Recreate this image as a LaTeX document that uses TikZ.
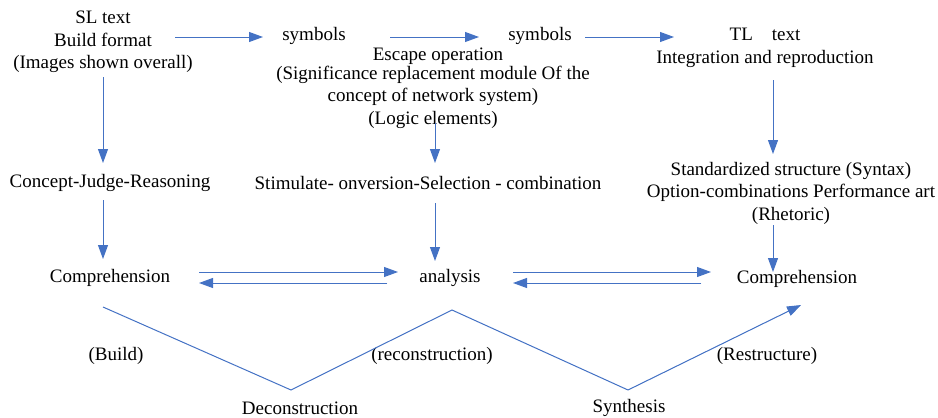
\documentclass[tikz,border=0pt]{standalone}
\usepackage{fontspec}
\setmainfont{Liberation Serif}
\usetikzlibrary{arrows.meta}
\definecolor{lineblue}{HTML}{4472C4}
\begin{document}
\begin{tikzpicture}[x=1pt,y=-1pt,
  lbl/.style={inner sep=0pt,align=center,font=\fontsize{19}{22.5}\selectfont},
  arr/.style={draw=lineblue,line width=1pt,-{Triangle[length=14pt,width=10pt]},fill=lineblue},
  ln/.style={draw=lineblue,line width=1pt}]
\useasboundingbox (0,0) rectangle (938,418);
% top row
\node[lbl] (sl) at (103,42) {SL text\\Build format\\(Images shown overall)};
\node[lbl] (sym1) at (314,36) {symbols};
\node[lbl] (sym2) at (540,36) {symbols};
\node[lbl] (tl) at (765,48) {TL\quad text\\Integration and reproduction};
\node[lbl] (esc) at (438,56) {Escape operation};
\node[lbl] (sig) at (433,97) {(Significance replacement module Of the\\concept of network system)\\(Logic elements)};
% middle row
\node[lbl] (cjr) at (110,183) {Concept-Judge-Reasoning};
\node[lbl] (stim) at (428,183) {Stimulate- onversion-Selection - combination};
\node[lbl] (std) at (791,193) {Standardized structure (Syntax)\\Option-combinations Performance art\\(Rhetoric)};
% bottom row
\node[lbl] (comp1) at (110,278) {Comprehension};
\node[lbl] (ana) at (450,278) {analysis};
\node[lbl] (comp2) at (797,279) {Comprehension};
% zigzag labels
\node[lbl] (build) at (116,356) {(Build)};
\node[lbl] (recon) at (432,356) {(reconstruction)};
\node[lbl] (restr) at (767,356) {(Restructure)};
\node[lbl] (decon) at (300,408) {Deconstruction};
\node[lbl] (synth) at (629,408) {Synthesis};
% horizontal arrows top
\coordinate (a1s) at (175,37); \coordinate (a1e) at (263,37);
\draw[arr] (a1s) -- (a1e);
\coordinate (a2s) at (390,37); \coordinate (a2e) at (479,37);
\draw[arr] (a2s) -- (a2e);
\coordinate (a3s) at (585,37); \coordinate (a3e) at (674,37);
\draw[arr] (a3s) -- (a3e);
% vertical arrows
\coordinate (v1a) at (103,77); \coordinate (v1b) at (103,163);
\draw[arr] (v1a) -- (v1b);
\coordinate (v2a) at (103,200); \coordinate (v2b) at (103,259);
\draw[arr] (v2a) -- (v2b);
\coordinate (v3a) at (435,123); \coordinate (v3b) at (435,163);
\draw[arr] (v3a) -- (v3b);
\coordinate (v4a) at (435,203); \coordinate (v4b) at (435,261);
\draw[arr] (v4a) -- (v4b);
\coordinate (v5a) at (773,80); \coordinate (v5b) at (773,154);
\draw[arr] (v5a) -- (v5b);
\coordinate (v6a) at (773,225); \coordinate (v6b) at (773,272);
\draw[arr] (v6a) -- (v6b);
% double arrows
\coordinate (h1a) at (199,272); \coordinate (h1b) at (398,272);
\draw[arr] (h1a) -- (h1b);
\coordinate (h2a) at (387,283); \coordinate (h2b) at (199,283);
\draw[arr] (h2a) -- (h2b);
\coordinate (h3a) at (513,272); \coordinate (h3b) at (711,272);
\draw[arr] (h3a) -- (h3b);
\coordinate (h4a) at (701,283); \coordinate (h4b) at (513,283);
\draw[arr] (h4a) -- (h4b);
% zigzag
\coordinate (z0) at (103,307);
\coordinate (z1) at (291,390);
\coordinate (z2) at (452,310);
\coordinate (z3) at (628,390);
\coordinate (z4) at (801,305);
\draw[ln] (z0) -- (z1) -- (z2) -- (z3);
\draw[arr] (z3) -- (z4);
\end{tikzpicture}
\end{document}
